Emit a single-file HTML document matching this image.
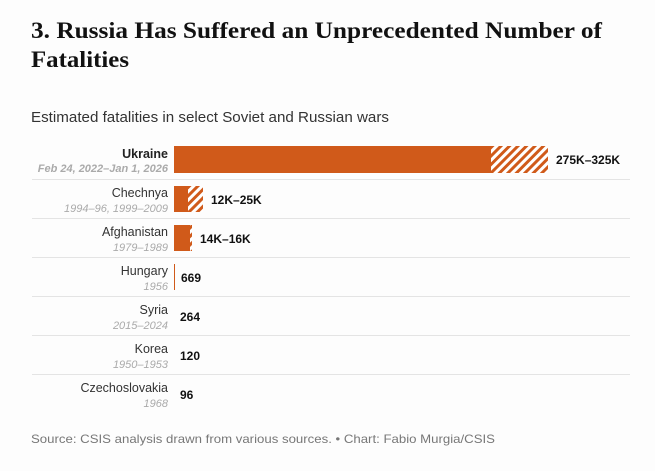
<!DOCTYPE html>
<html><head><meta charset="utf-8"><style>
html,body{margin:0;padding:0;background:#fdfdfd;}
svg{display:block;}
text{font-family:"Liberation Sans",sans-serif;}
</style></head><body>
<svg width="655" height="471" viewBox="0 0 655 471" xmlns="http://www.w3.org/2000/svg">
<defs>
<pattern id="h" patternUnits="userSpaceOnUse" width="6" height="6" patternTransform="rotate(45)">
<rect width="6" height="6" fill="#fff"/><rect width="3" height="6" fill="#d05a1a"/>
</pattern>
</defs>
<rect width="655" height="471" fill="#fdfdfd"/>
<text x="31" y="38" font-family="Liberation Serif,serif" font-weight="bold" font-size="23" fill="#111" textLength="571" lengthAdjust="spacingAndGlyphs" style="font-family:'Liberation Serif',serif">3. Russia Has Suffered an Unprecedented Number of</text>
<text x="31" y="67" font-weight="bold" font-size="23" fill="#111" textLength="98" lengthAdjust="spacingAndGlyphs" style="font-family:'Liberation Serif',serif">Fatalities</text>
<text x="31" y="122" font-size="14.5" fill="#333" textLength="358" lengthAdjust="spacingAndGlyphs">Estimated fatalities in select Soviet and Russian wars</text>
<g stroke="#e4e4e4" stroke-width="1">
<line x1="32" y1="179.5" x2="630" y2="179.5"/>
<line x1="32" y1="218.5" x2="630" y2="218.5"/>
<line x1="32" y1="257.5" x2="630" y2="257.5"/>
<line x1="32" y1="296.5" x2="630" y2="296.5"/>
<line x1="32" y1="335.5" x2="630" y2="335.5"/>
<line x1="32" y1="374.5" x2="630" y2="374.5"/>
</g>
<!-- bars -->
<rect x="174" y="146" width="317" height="27" fill="#d05a1a"/>
<rect x="491" y="146" width="57" height="27" fill="url(#h)"/>
<rect x="174" y="186" width="14" height="26" fill="#d05a1a"/>
<rect x="188" y="186" width="15" height="26" fill="url(#h)"/>
<rect x="174" y="225" width="16" height="26" fill="#d05a1a"/>
<rect x="190" y="225" width="2" height="26" fill="url(#h)"/>
<rect x="174" y="264" width="1" height="26" fill="#d05a1a"/>
<g font-size="12" font-weight="bold" fill="#111">
<text x="556" y="164">275K–325K</text>
<text x="211" y="204">12K–25K</text>
<text x="200" y="243">14K–16K</text>
<text x="181" y="282">669</text>
<text x="180" y="321">264</text>
<text x="180" y="360">120</text>
<text x="180" y="399">96</text>
</g>
<g text-anchor="end" font-size="12.5" fill="#333">
<text x="168" y="158" font-weight="bold" fill="#222">Ukraine</text>
<text x="168" y="197">Chechnya</text>
<text x="168" y="236">Afghanistan</text>
<text x="168" y="275">Hungary</text>
<text x="168" y="314">Syria</text>
<text x="168" y="353">Korea</text>
<text x="168" y="392">Czechoslovakia</text>
</g>
<g text-anchor="end" font-size="11" font-style="italic" fill="#aaa">
<text x="168" y="172" font-weight="bold">Feb 24, 2022–Jan 1, 2026</text>
<text x="168" y="212">1994–96, 1999–2009</text>
<text x="168" y="251">1979–1989</text>
<text x="168" y="290">1956</text>
<text x="168" y="329">2015–2024</text>
<text x="168" y="368">1950–1953</text>
<text x="168" y="407">1968</text>
</g>
<text x="31" y="443" font-size="12" fill="#777" textLength="464" lengthAdjust="spacingAndGlyphs">Source: CSIS analysis drawn from various sources. • Chart: Fabio Murgia/CSIS</text>
</svg>
</body></html>
